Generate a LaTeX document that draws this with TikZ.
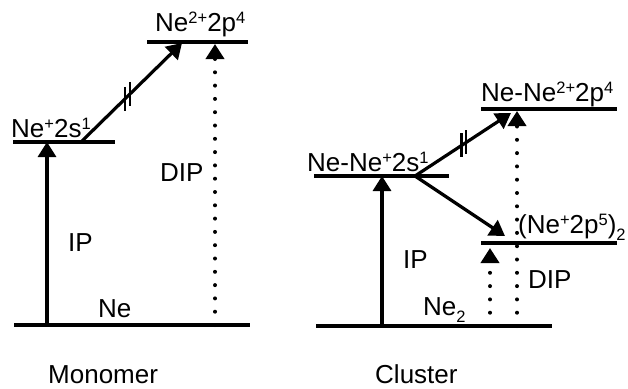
\documentclass[tikz,border=0pt]{standalone}
\usepackage{fontspec}
\setmainfont{Liberation Sans}
\usetikzlibrary{arrows.meta,calc}
% raised and lowered small figures for the term symbols
\newcommand\myup[1]{\raisebox{8pt}{\fontsize{16.5}{16.5}\selectfont #1}}
\newcommand\mydown[1]{\raisebox{-7pt}{\fontsize{16.5}{16.5}\selectfont #1}}
\tikzset{
  lvl/.style={line width=3.3pt},
  txt/.style={inner sep=0pt, anchor=base west, font=\fontsize{26}{30}\selectfont},
  tip/.style={-{Triangle[length=15pt,width=18pt]}},
  solidarrow/.style={line width=3.2pt, tip},
  dotarrow/.style={line width=4pt, line cap=round, dash pattern=on 0pt off 13.3pt, tip},
  tick/.style={line width=2.6pt},
}
\begin{document}
\begin{tikzpicture}[x=1pt,y=-1pt]
\useasboundingbox (0,0) rectangle (628,388);

% ---------- Monomer ----------
\coordinate (mgl) at (14,325);   \coordinate (mgr) at (250,325);
\coordinate (m1l) at (13,142);   \coordinate (m1r) at (115,142);
\coordinate (m2l) at (147,42);   \coordinate (m2r) at (248,42);
\draw[lvl] (mgl) -- (mgr);
\draw[lvl] (m1l) -- (m1r);
\draw[lvl] (m2l) -- (m2r);

\coordinate (mipb) at (47,325);  \coordinate (mipt) at (47,142);
\draw[solidarrow] (mipb) -- (mipt);

\coordinate (mxa) at (81,142);   \coordinate (mxb) at (182,43);
\draw[solidarrow] (mxa) -- (mxb);
\draw[tick] ($(mxa)!0.436!(mxb)$) +(0,-12) -- +(0,12);
\draw[tick] ($(mxa)!0.485!(mxb)$) +(0,-12) -- +(0,12);

\coordinate (mdb) at (215,325);  \coordinate (mdt) at (215,44);
\draw[dotarrow] (mdb) -- (mdt);

\node[txt] (mlab1) at (11,137) {Ne\myup{+}2s\myup{1}};
\node[txt] (mlab2) at (155,31) {Ne\myup{2+}2p\myup{4}};
\node[txt] (mdip) at (160,181) {DIP};
\node[txt] (mip) at (68,251) {IP};
\node[txt] (mne) at (98,317) {Ne};
\node[txt] (mono) at (48,383) {Monomer};

% ---------- Cluster ----------
\coordinate (cgl) at (316,326);  \coordinate (cgr) at (552,326);
\coordinate (c1l) at (314,176);  \coordinate (c1r) at (449,176);
\coordinate (c2l) at (481,109);  \coordinate (c2r) at (617,109);
\coordinate (c3l) at (481,243);  \coordinate (c3r) at (617,243);
\draw[lvl] (cgl) -- (cgr);
\draw[lvl] (c1l) -- (c1r);
\draw[lvl] (c2l) -- (c2r);
\draw[lvl] (c3l) -- (c3r);

\coordinate (cipb) at (382,326); \coordinate (cipt) at (382,176);
\draw[solidarrow] (cipb) -- (cipt);

\coordinate (cxa) at (415,176);  \coordinate (cxb) at (511,113);
\coordinate (cxc) at (505,236);
\draw[solidarrow] (cxa) -- (cxb);
\draw[solidarrow] (cxa) -- (cxc);
\draw[tick] ($(cxa)!0.486!(cxb)$) +(0,-12) -- +(0,12);
\draw[tick] ($(cxa)!0.532!(cxb)$) +(0,-12) -- +(0,12);

\coordinate (cub) at (490,326);  \coordinate (cut) at (490,248);
\draw[dotarrow] (cub) -- (cut);
\coordinate (cdb) at (517,326);  \coordinate (cdt) at (517,111);
\draw[dotarrow] (cdb) -- (cdt);

\node[txt] (clab1) at (307,171) {Ne-Ne\myup{+}2s\myup{1}};
\node[txt] (clab2) at (481,101) {Ne-Ne\myup{2+}2p\myup{4}};
\node[txt] (clab3) at (518,233) {(Ne\myup{+}2p\myup{5})\mydown{2}};
\node[txt] (cip) at (403,268) {IP};
\node[txt] (cdip) at (528,288) {DIP};
\node[txt] (cne) at (423,315) {Ne\mydown{2}};
\node[txt] (clu) at (375,383) {Cluster};
\end{tikzpicture}
\end{document}
